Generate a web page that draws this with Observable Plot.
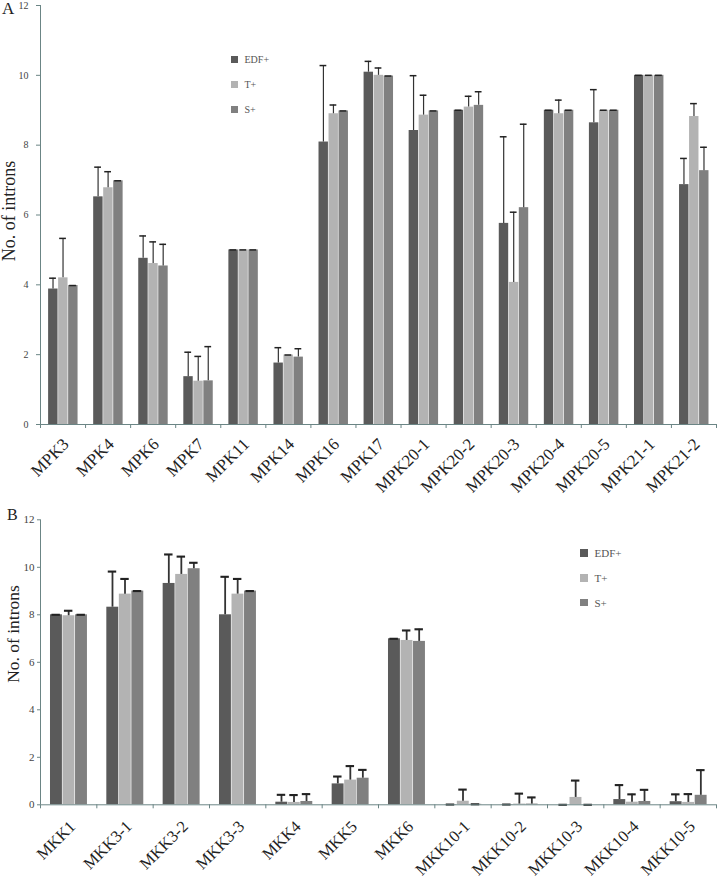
<!DOCTYPE html>
<html><head><meta charset="utf-8">
<script src="https://cdn.jsdelivr.net/npm/d3@7"></script>
<script src="https://cdn.jsdelivr.net/npm/@observablehq/plot@0.6"></script>
<style>
body{margin:0;background:#fff;}
#wrap{position:relative;width:719px;height:878px;overflow:hidden;font-family:"Liberation Serif","Times New Roman",serif;}
.panel{position:absolute;left:0;}
.abs{position:absolute;white-space:nowrap;line-height:1;}
.ylab{position:absolute;white-space:nowrap;transform:translate(-50%,-50%) rotate(-90deg);line-height:1;color:#222;}
.sw{position:absolute;}
.lt{position:absolute;transform:translateY(-50%);color:#555;line-height:1;}
</style></head><body><div id="wrap"></div>
<script>
// ---- data ----
const series = ["EDF+", "T+", "S+"];
const colors = ["#5a5a5a", "#b3b3b3", "#808080"];
const yTicks = [0, 2, 4, 6, 8, 10, 12];

const genesA = ["MPK3","MPK4","MPK6","MPK7","MPK11","MPK14","MPK16","MPK17","MPK20-1","MPK20-2","MPK20-3","MPK20-4","MPK20-5","MPK21-1","MPK21-2"];
const edfA    = [3.88, 6.52, 4.76, 1.37, 5.0, 1.76, 8.09, 10.09, 8.42, 9.0, 5.76, 9.0, 8.64, 10.0, 6.87];
const edfErrA = [0.31, 0.85, 0.64, 0.70, 0.0, 0.44, 2.19, 0.31, 1.57, 0.0, 2.48, 0.0, 0.95, 0.0, 0.75];
const tA      = [4.20, 6.78, 4.61, 1.24, 5.0, 1.99, 8.90, 10.0, 8.86, 9.09, 4.07, 8.90, 9.0, 10.0, 8.82];
const tErrA   = [1.13, 0.46, 0.62, 0.71, 0.0, 0.0, 0.25, 0.21, 0.57, 0.31, 2.01, 0.39, 0.0, 0.0, 0.37];
const sA      = [3.98, 6.98, 4.54, 1.25, 5.0, 1.93, 8.98, 9.98, 8.98, 9.14, 6.21, 9.0, 9.0, 10.0, 7.27];
const sErrA   = [0.0, 0.0, 0.62, 0.98, 0.0, 0.24, 0.0, 0.0, 0.0, 0.39, 2.39, 0.0, 0.0, 0.0, 0.67];

const genesB = ["MKK1","MKK3-1","MKK3-2","MKK3-3","MKK4","MKK5","MKK6","MKK10-1","MKK10-2","MKK10-3","MKK10-4","MKK10-5"];
const edfB    = [8.0, 8.32, 9.32, 8.0, 0.11, 0.88, 6.99, 0.01, 0.01, 0.0, 0.22, 0.13];
const edfErrB = [0.0, 1.50, 1.22, 1.60, 0.31, 0.31, 0.0, 0.0, 0.0, 0.0, 0.61, 0.31];
const tB      = [7.96, 8.87, 9.70, 8.87, 0.10, 1.04, 6.92, 0.15, 0.03, 0.31, 0.11, 0.10];
const tErrB   = [0.21, 0.64, 0.75, 0.64, 0.31, 0.59, 0.42, 0.49, 0.44, 0.71, 0.33, 0.35];
const sB      = [8.0, 9.0, 9.94, 9.0, 0.14, 1.12, 6.88, 0.02, 0.03, 0.0, 0.14, 0.40];
const sErrB   = [0.0, 0.0, 0.25, 0.0, 0.31, 0.35, 0.51, 0.0, 0.28, 0.0, 0.49, 1.06];

// ---- helpers ----
const AXIS = "#6b8585";
const OFF = 1/6, BW = 2/9, CAP = 0.075;

function rowsOf(genes, vals, errs) {
  const rows = [];
  genes.forEach((g, i) => series.forEach((s, k) => rows.push({i, k, gene: g, series: s, value: vals[k][i], err: errs[k][i]})));
  return rows;
}

function panel(cfg) {
  const {genes, rows, height, marginTop, marginBottom, tickFont, labFont, lab, errW} = cfg;
  const N = genes.length;
  const cx = d => d.i + OFF + (d.k + 0.5) * BW;
  return Plot.plot({
    width: 719, height, marginTop, marginBottom, marginLeft: 40, marginRight: 3,
    style: {fontFamily: "'Liberation Serif', serif", background: "transparent", overflow: "visible"},
    x: {type: "linear", domain: [0, N], axis: null},
    y: {domain: [0, 12], axis: null},
    color: {domain: series, range: colors},
    marks: [
      Plot.rectY(rows, {x1: d => d.i + OFF + d.k * BW, x2: d => d.i + OFF + (d.k + 1) * BW, y1: 0, y2: "value", fill: "series", insetLeft: 0.6}),
      Plot.ruleX(rows, {x: cx, y1: "value", y2: d => d.value + d.err, stroke: "#333", strokeWidth: errW}),
      Plot.ruleY(rows, {x1: d => cx(d) - CAP, x2: d => cx(d) + CAP, y: d => d.value + d.err, stroke: "#222", strokeWidth: errW + 0.3}),
      Plot.ruleX([0], {y1: 0, y2: 12, stroke: AXIS}),
      Plot.ruleY([0], {stroke: AXIS}),
      Plot.axisY({ticks: yTicks, label: null, tickSize: cfg.ytickSize, tickPadding: cfg.ytickPad, fontSize: tickFont, stroke: AXIS, fill: "#444"}),
      Plot.axisX({ticks: d3.range(N + 1), label: null, tickSize: 4, tickFormat: () => "", stroke: AXIS}),
      Plot.text(genes, {x: (d, i) => i + 0.5, y: () => 0, text: d => d, rotate: -45,
        textAnchor: "end", lineAnchor: "middle", fontSize: labFont, dx: lab.dx, dy: lab.dy, fill: "#222"})
    ]
  });
}

const wrap = document.getElementById("wrap");

const rowsA = rowsOf(genesA, [edfA, tA, sA], [edfErrA, tErrA, sErrA]);
const rowsB = rowsOf(genesB, [edfB, tB, sB], [edfErrB, tErrB, sErrB]);

const pA = panel({genes: genesA, rows: rowsA, height: 500, marginTop: 5, marginBottom: 76, tickFont: 10, labFont: 17, lab: {dx: 3, dy: 17}, errW: 1.2, ytickSize: 4, ytickPad: 8});
pA.classList.add("panel"); pA.style.top = "0px";
wrap.appendChild(pA);

const pB = panel({genes: genesB, rows: rowsB, height: 378, marginTop: 19.3, marginBottom: 73.7, tickFont: 11, labFont: 16.5, lab: {dx: 4, dy: 19}, errW: 1.8, ytickSize: 3, ytickPad: 3});
pB.classList.add("panel"); pB.style.top = "500px";
wrap.appendChild(pB);

// panel letters & y labels
function addText(cls, txt, css) {
  const d = document.createElement("div");
  d.className = cls; d.textContent = txt;
  Object.assign(d.style, css);
  wrap.appendChild(d);
}
addText("abs", "A", {left: "2px", top: "0px", fontSize: "17px", color: "#222"});
addText("abs", "B", {left: "7px", top: "507px", fontSize: "16px", color: "#222"});
addText("ylab", "No. of introns", {left: "9px", top: "211px", fontSize: "18px"});
addText("ylab", "No. of introns", {left: "13.5px", top: "634px", fontSize: "17.5px"});

// legends
function legend(x, y, size, gap, font) {
  series.forEach((s, k) => {
    const sw = document.createElement("div");
    sw.className = "sw";
    Object.assign(sw.style, {left: x + "px", top: (y + k * gap - size / 2) + "px", width: size + "px", height: size + "px", background: colors[k]});
    wrap.appendChild(sw);
    const t = document.createElement("div");
    t.className = "lt"; t.textContent = s;
    Object.assign(t.style, {left: (x + size + 7) + "px", top: (y + k * gap) + "px", fontSize: font + "px"});
    wrap.appendChild(t);
  });
}
legend(231, 59.5, 6.5, 25, 10);
legend(580, 553, 7.5, 24.8, 11);
</script>
</body></html>
